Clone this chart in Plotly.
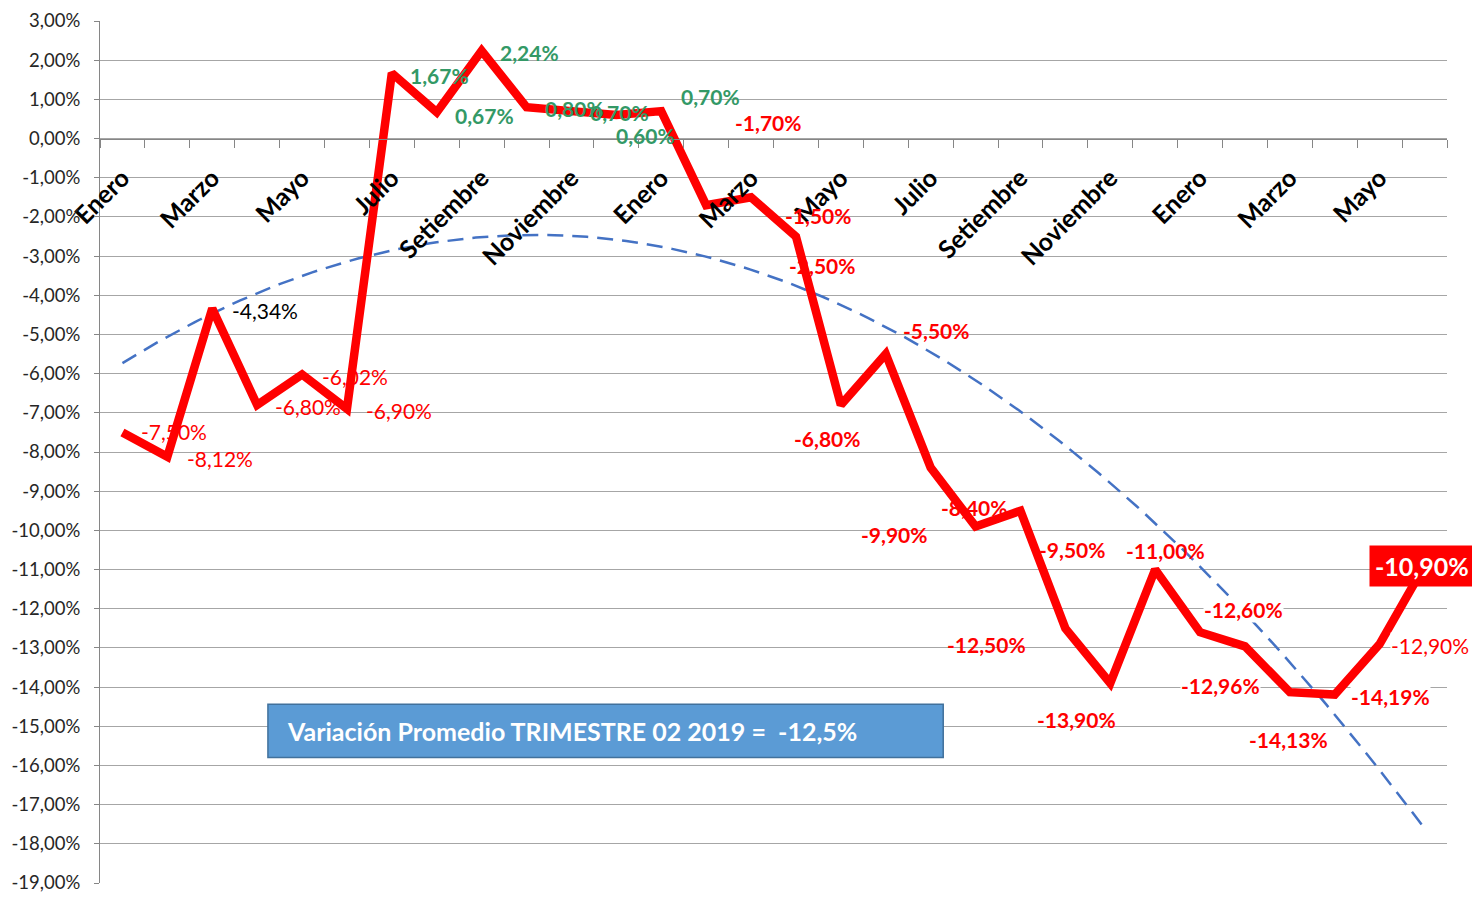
import numpy as np
import plotly.graph_objects as go

months = ["Enero", "Febrero", "Marzo", "Abril", "Mayo", "Junio", "Julio", "Agosto",
          "Setiembre", "Octubre", "Noviembre", "Diciembre",
          "Enero", "Febrero", "Marzo", "Abril", "Mayo", "Junio", "Julio", "Agosto",
          "Setiembre", "Octubre", "Noviembre", "Diciembre",
          "Enero", "Febrero", "Marzo", "Abril", "Mayo", "Junio"]
values = [-7.50, -8.12, -4.34, -6.80, -6.02, -6.90, 1.67, 0.67, 2.24, 0.80,
          0.70, 0.60, 0.70, -1.70, -1.50, -2.50, -6.80, -5.50, -8.40, -9.90,
          -9.50, -12.50, -13.90, -11.00, -12.60, -12.96, -14.13, -14.19, -12.90, -10.90]
y_ticks = list(range(-19, 4))
note_text = "Variación Promedio TRIMESTRE 02 2019 =  -12,5%"

x_idx = list(range(1, len(values) + 1))

# label styling per point: (dx, dy, color, bold, white background)
RED = "#FF0000"
GRN = "#339966"
BLK = "#000000"
label_style = [
    (52, 1, RED, False, False), (53, -2, RED, False, False), (53, -2, BLK, False, False),
    (51, -2, RED, False, False), (53, -2, RED, False, False), (52, -2, RED, False, False),
    (48, -2, GRN, True, False), (48, -3, GRN, True, False), (48, -2, GRN, True, False),
    (48, -1, GRN, True, False), (48, -1, GRN, True, False), (29, -20, GRN, True, False),
    (49, 15, GRN, True, False), (62, 83, RED, True, False), (67, -18, RED, True, False),
    (27, -29, RED, True, False), (-13, -34, RED, True, False), (51, 24, RED, True, False),
    (44, -40, RED, True, False), (-81, -8, RED, True, False), (52, -39, RED, True, False),
    (-79, -16, RED, True, False), (-34, -36, RED, True, False), (10, 19, RED, True, False),
    (43, 23, RED, True, True), (-24, -39, RED, True, True), (-1, -47, RED, True, False),
    (56, -2, RED, True, True), (50, -2, RED, False, True), (-3, 0, RED, True, False),
]

FONT = "Lato"
fig = go.Figure()

# polynomial (order 2) trend line like the spreadsheet's trendline
coef = np.polyfit(x_idx, values, 2)
xt = np.linspace(x_idx[0], x_idx[-1], 200)
fig.add_trace(go.Scatter(x=xt, y=np.polyval(coef, xt), mode="lines",
                         line=dict(color="#4472C4", width=2.5, dash="16px,9px"),
                         hoverinfo="skip", showlegend=False))

fig.add_trace(go.Scatter(x=x_idx, y=values, mode="lines",
                         line=dict(color="#FF0000", width=8.5),
                         showlegend=False))


def fmt(v, nd=2):
    return f"{v:.{nd}f}%".replace(".", ",")


for i, (xv, v) in enumerate(zip(x_idx, values)):
    dx, dy, col, bold, wbg = label_style[i]
    if i == len(values) - 1:
        fig.add_annotation(x=xv, y=v, xref="x", yref="y", text="<b>" + fmt(v) + "</b>",
                           showarrow=False, xshift=dx, yshift=dy,
                           font=dict(family=FONT, size=25, color="white"),
                           bgcolor="#FF0000", borderpad=5)
        continue
    t = fmt(v)
    if bold:
        t = "<b>" + t + "</b>"
    fig.add_annotation(x=xv, y=v, xref="x", yref="y", text=t, showarrow=False,
                       xshift=dx, yshift=dy,
                       font=dict(family=FONT, size=21, color=col),
                       bgcolor="white" if wbg else "rgba(0,0,0,0)", borderpad=0)

# note box (placed in axis coordinates)
fig.add_shape(type="rect", xref="x", yref="y",
              x0=4.24, x1=19.28, y0=-15.80, y1=-14.44,
              fillcolor="#5B9BD5", line=dict(color="#41719C", width=1.5), layer="above")
fig.add_annotation(xref="x", yref="y", x=4.62, y=-15.12,
                   xanchor="left", yanchor="middle", showarrow=False,
                   text="<b>" + note_text + "</b>",
                   font=dict(family=FONT, size=25, color="white"))

ymin, ymax = y_ticks[0], y_ticks[-1]
fig.update_layout(
    width=1464, height=885,
    margin=dict(l=92, r=25, t=13, b=10, autoexpand=False),
    plot_bgcolor="white", paper_bgcolor="white",
    font=dict(family=FONT, color="#000000"),
    xaxis=dict(
        range=[0.5, len(values) + 0.5], automargin=False,
        tickmode="array", tickvals=x_idx[::2], ticktext=months[::2],
        tickangle=-45, ticks="", showgrid=False, zeroline=False,
        showline=True, linecolor="#868686", linewidth=1,
        anchor="free", position=(0 - ymin) / (ymax - ymin),
        tickfont=dict(family=FONT, size=25, color="#000000", weight="bold"),
        ticklabelstandoff=14,
        minor=dict(ticks="outside", tick0=0.5, dtick=1, ticklen=8,
                   tickcolor="#868686", tickwidth=1, showgrid=False),
    ),
    yaxis=dict(
        range=[ymin, ymax], automargin=False,
        tickmode="array", tickvals=y_ticks, ticktext=[fmt(v) for v in y_ticks],
        showgrid=True, gridcolor="#A6A6A6", gridwidth=1,
        zeroline=False, showline=True, linecolor="#868686", linewidth=1,
        ticks="outside", ticklen=5, tickcolor="#868686",
        ticklabelstandoff=10, ticklabeloverflow="allow",
        tickfont=dict(family=FONT, size=18.5, color="#262626"),
    ),
)

fig.write_html("out.html")
